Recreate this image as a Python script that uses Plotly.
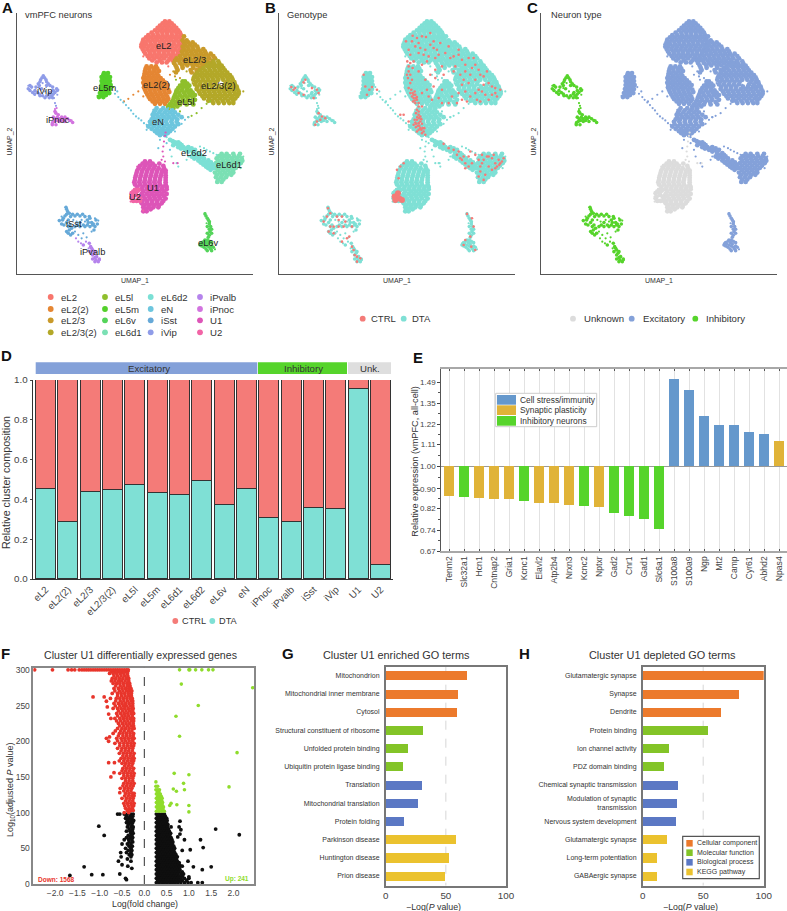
import plotly.graph_objects as go

W, H = 787, 911
FONT = "Liberation Sans"

# ---------- UMAP clusters as (row, [columns]) in picture units
eL2 = [(65, [495, 508]), (71, [488, 501, 515]), (78, [480, 494, 508, 522]), (85, [473, 487, 501, 515, 529]),
       (92, [465, 480, 494, 508, 522, 535]), (99, [455, 472, 487, 501, 515, 529, 540]),
       (106, [445, 460, 474, 488, 502, 516, 530, 543]), (113, [438, 452, 467, 481, 495, 509, 523, 536, 548]),
       (120, [430, 444, 458, 472, 486, 500, 514, 528, 542]), (127, [428, 437, 451, 465, 479, 493, 507, 521, 535, 548]),
       (134, [425, 439, 453, 467, 481, 495, 509, 523, 537, 548]), (141, [424, 432, 446, 460, 474, 488, 502, 516, 530, 544]),
       (148, [428, 442, 456, 470, 484, 498, 512, 526, 540]), (155, [432, 449, 463, 477, 491, 505, 519, 533, 545]),
       (162, [436, 450, 464, 478, 492, 506, 520, 534]), (169, [443, 457, 471, 485, 499, 513, 527]),
       (176, [448, 464, 478, 492, 510, 522]), (182, [457, 480, 505, 518]), (188, [470, 486, 500])]
eL2_2 = [(200, [440, 454, 468]), (207, [437, 447, 461, 472]), (214, [435, 449, 463, 477]), (221, [434, 442, 456, 470]),
         (228, [433, 447, 461, 475]), (235, [430, 440, 454, 468, 482]), (242, [433, 447, 461, 475, 489]),
         (249, [430, 440, 454, 468, 482, 496]), (256, [433, 447, 461, 475, 489, 503]), (263, [432, 442, 456, 470, 484, 498]),
         (270, [435, 449, 463, 477, 491, 505]), (277, [438, 452, 466, 480, 494, 508]), (284, [442, 456, 470, 484, 498]),
         (291, [446, 460, 474, 488, 502]), (298, [450, 464, 478, 492, 505]), (305, [458, 472, 486, 500]), (312, [465, 480, 495])]
eL2_3 = [(110, [552]), (122, [548, 560]), (128, [552, 565, 578]), (135, [555, 570, 585]), (141, [548, 562, 577, 592]),
         (148, [552, 566, 580, 595, 610]), (155, [546, 559, 573, 587, 601, 615]), (162, [548, 562, 576, 590, 604, 618, 632]),
         (169, [540, 555, 569, 583, 597, 611, 625, 640]), (176, [530, 544, 558, 572, 586, 600, 614, 628, 645]),
         (183, [525, 537, 551, 565, 579, 593, 607, 622, 638]), (190, [522, 540, 555, 570, 585, 600, 615, 630]),
         (197, [527, 547, 562, 578, 592, 608]), (204, [530, 548, 580, 600]), (211, [533, 572, 590]),
         (218, [528, 575, 590])]
eL2_3_2 = [(185, [640, 655]), (192, [628, 642, 658]), (198, [620, 635, 650, 665]), (205, [610, 627, 642, 657, 670]),
           (212, [600, 615, 630, 645, 660, 675]), (219, [592, 607, 622, 637, 652, 667, 682]),
           (226, [585, 600, 615, 630, 645, 660, 675, 690]), (233, [582, 592, 607, 622, 637, 652, 667, 682, 695]),
           (240, [580, 595, 610, 625, 640, 655, 670, 685, 698]), (247, [588, 602, 617, 632, 647, 680, 695, 703]),
           (254, [585, 600, 615, 630, 645, 675, 690, 705]), (261, [592, 607, 622, 637, 657, 672, 687, 700, 710]),
           (268, [590, 605, 620, 635, 650, 665, 680, 695, 712]), (275, [597, 612, 627, 642, 657, 672, 687, 702, 716]),
           (282, [600, 615, 630, 645, 660, 675, 690, 705, 716]), (289, [607, 622, 637, 652, 667, 682, 697, 712]),
           (296, [612, 628, 644, 660, 676, 692, 706]), (303, [625, 636, 652, 668, 684, 700]), (310, [640, 656, 672, 688, 700])]
eL5l = [(245, [548, 555]), (252, [548, 562]), (258, [540, 555, 568]), (265, [535, 548, 562]), (272, [530, 545, 560, 572]),
        (279, [528, 537, 552, 566, 578]), (286, [525, 540, 555, 570, 585]), (293, [522, 532, 547, 562, 578]),
        (300, [520, 535, 550, 565, 585]), (307, [515, 528, 543, 558, 575]), (314, [510, 525, 540, 560, 580]),
        (320, [505, 517, 532]), (326, [505, 520])]
eL5m = [(220, [312, 324]), (226, [310, 322]), (232, [305, 318, 330]), (238, [311, 324]), (244, [305, 318, 330]),
        (250, [311, 325]), (256, [305, 318, 332]), (262, [310, 325]), (268, [303, 316, 330]), (274, [309, 323]),
        (280, [300, 314, 328]), (286, [304, 318]), (292, [297, 310])]
eL6v = [(642, [615]), (648, [618]), (655, [622]), (660, [625]), (665, [628]), (672, [628]), (680, [622, 632]), (688, [628, 635]),
        (695, [630]), (700, [622, 635]), (706, [628]), (712, [625]), (720, [615, 622]), (724, [612, 628]), (728, [605, 620, 635]),
        (732, [608, 625]), (735, [600, 615]), (738, [605, 622, 635]), (742, [612, 628, 640]), (747, [618, 632]), (752, [622, 635])]
eL6d1 = [(462, [665, 680, 700, 720]), (469, [657, 672, 687, 702, 716]), (476, [650, 665, 680, 695, 710, 725]),
         (483, [655, 670, 685, 700, 715, 727]), (490, [648, 663, 678, 693, 708, 722]), (497, [654, 669, 684, 699, 714]),
         (504, [648, 663, 678, 693, 708]), (511, [654, 669, 684, 699]), (518, [645, 660, 675, 690, 700]),
         (525, [652, 667, 682, 694]), (532, [648, 663, 678]), (539, [655, 670]), (546, [652, 665])]
eL6d2 = [(420, [510]), (424, [518]), (428, [525, 535]), (432, [530, 540]), (436, [520, 545]), (442, [535, 550, 565]),
         (446, [543, 560, 575]), (450, [555, 570, 585]), (455, [565, 578]), (460, [580, 595]), (465, [585, 600]),
         (470, [575, 590, 605]), (476, [583, 598, 612]), (482, [595, 610, 625]), (488, [602, 618, 633]),
         (494, [610, 625, 640]), (500, [618, 632]), (505, [625, 640]), (510, [632])]
eN = [(325, [470, 490]), (332, [466, 482, 500, 517]), (338, [462, 478, 494, 510, 525]), (345, [458, 470, 486, 502, 518, 535]),
      (352, [460, 476, 492, 508, 524, 545]), (359, [455, 468, 484, 500, 516, 532]), (366, [450, 466, 482, 498, 514, 530]),
      (373, [452, 469, 485, 501, 517, 535]), (380, [445, 461, 477, 493, 509, 525]), (387, [455, 471, 487, 503, 518]),
      (394, [465, 480, 495, 510]), (400, [472, 488, 503]), (406, [480, 495])]
iSst = [(622, [198]), (628, [200]), (635, [203]), (640, [208]), (643, [200, 218, 232, 248]), (648, [195, 225, 240]),
        (650, [212, 255, 268]), (655, [190, 270]), (660, [188, 205, 262, 288]), (662, [178]), (668, [200, 240, 265, 275]),
        (672, [185, 280, 292]), (675, [192, 210, 232, 250, 262, 278]), (680, [205, 225, 240, 255, 270, 285]), (685, [215]),
        (690, [208, 282]), (695, [200]), (700, [205, 218]), (705, [212])]
iVip = [(228, [130]), (234, [126, 134]), (240, [122, 138]), (246, [120, 140]), (252, [115, 145]), (257, [90, 118, 140, 150]),
        (262, [95, 108, 158]), (267, [85, 125, 170]), (272, [90, 105, 160, 172]), (278, [98, 112, 150, 165]),
        (283, [104, 118, 148, 160]), (288, [120, 128, 140, 155]), (294, [135, 148, 158])]
iPvalb = [(730, [268]), (735, [250]), (740, [272]), (745, [275]), (750, [278]), (755, [270, 285]), (760, [282]), (765, [278]),
          (770, [290]), (773, [285]), (777, [278, 298]), (780, [288]), (785, [285, 295])]
iPnoc = [(335, [165]), (340, [168]), (345, [175]), (352, [160, 172, 185, 195]), (357, [165, 178, 190, 203]),
         (362, [170, 185, 210]), (365, [163, 178, 195]), (368, [158, 218]), (375, [157, 168])]
U1 = [(485, [435, 450]), (491, [428, 442, 458, 478]), (498, [420, 435, 450, 465, 490]), (505, [416, 431, 446, 461, 476, 492]),
      (512, [412, 427, 442, 457, 472, 487, 497]), (519, [410, 425, 440, 455, 470, 485, 497]),
      (526, [408, 423, 438, 453, 468, 483, 497]), (533, [406, 421, 436, 451, 466, 481, 497]),
      (540, [405, 420, 435, 450, 465, 480, 497]), (547, [403, 418, 433, 448, 463, 478, 497]),
      (554, [405, 420, 435, 450, 465, 480, 497]), (561, [412, 428, 443, 458, 473, 488, 500]),
      (568, [425, 440, 455, 470, 485, 500]), (575, [430, 447, 462, 477, 492]), (582, [425, 440, 455, 470, 485, 500]),
      (589, [430, 447, 462, 477, 492]), (596, [435, 450, 465, 480, 497]), (603, [428, 442, 457, 472, 490]),
      (610, [425, 440, 455, 470, 485]), (616, [432, 447, 462, 477]), (622, [430, 445, 460, 475]), (628, [435, 452]), (634, [430, 440])]
U2 = [(570, [405, 415]), (575, [400, 410]), (580, [395]), (585, [408]), (590, [398, 416]), (595, [395, 420]), (603, [400, 410, 420])]

# thin strands and strays, drawn with small dots
sparse = {
    "eL2": [(443, 155), (548, 128), (540, 185), (430, 170), (505, 200), (525, 195)],
    "eL2(2)": [(415, 275), (400, 285), (385, 297), (372, 305), (510, 225), (430, 290), (520, 330)],
    "eL2/3": [(520, 215), (540, 235), (525, 230), (548, 180), (590, 235), (610, 165)],
    "eL2/3(2)": [(578, 250), (655, 255), (560, 215), (730, 275), (650, 178)],
    "eL5l": [(590, 340), (605, 325), (620, 312), (575, 348), (630, 305), (565, 352), (540, 335), (528, 240)],
    "eL5m": [(340, 262), (293, 288)],
    "eL6v": [(615, 640), (600, 730), (630, 668), (620, 670), (645, 748)],
    "eL6d1": [(730, 470), (722, 505), (650, 548)],
    "eL6d2": [(600, 440), (612, 445), (620, 450), (630, 455), (640, 460), (650, 465), (500, 412), (560, 480),
              (530, 490), (515, 470), (535, 500), (565, 470)],
    "eN": [(345, 282), (352, 275), (355, 292), (362, 300), (370, 308), (378, 316), (386, 325), (393, 332), (400, 342),
           (408, 350), (416, 356), (424, 362), (432, 370), (440, 375), (555, 360), (565, 352), (545, 372), (525, 395),
           (500, 430), (510, 450), (475, 445), (480, 420), (460, 330), (440, 390), (505, 325)],
    "iSst": [(185, 650), (220, 660), (230, 665), (245, 660), (255, 665), (295, 662), (285, 655), (275, 695),
             (250, 700), (260, 712), (245, 715), (235, 705), (225, 695)],
    "iVip": [(85, 258), (90, 272), (128, 250), (118, 265), (150, 258), (175, 270), (172, 285), (162, 295), (165, 310),
             (168, 318), (105, 285), (135, 275)],
    "iPvalb": [(228, 715), (235, 725), (243, 730), (258, 725), (266, 745), (300, 780)],
    "iPnoc": [(170, 325), (165, 328), (200, 355), (215, 362), (155, 372)],
    "U1": [(490, 470), (488, 455), (490, 440), (492, 425), (495, 408), (497, 398), (485, 480), (495, 485), (412, 500),
           (415, 575), (420, 585), (520, 490), (533, 490)],
    "U2": [(392, 590), (392, 605), (430, 632)],
}

clusters = [("eL2", eL2, "#F8766D"), ("eL2(2)", eL2_2, "#E58633"), ("eL2/3", eL2_3, "#C99A2A"),
            ("eL2/3(2)", eL2_3_2, "#B3A828"), ("eL5l", eL5l, "#8FBF2C"), ("eL5m", eL5m, "#53D02A"),
            ("eL6v", eL6v, "#54D45A"), ("eL6d1", eL6d1, "#7BE0B4"), ("eL6d2", eL6d2, "#7BE0D5"),
            ("eN", eN, "#6DC6DE"), ("iSst", iSst, "#66A9D8"), ("iVip", iVip, "#8F9CE8"),
            ("iPvalb", iPvalb, "#B583EC"), ("iPnoc", iPnoc, "#D273DF"), ("U1", U1, "#DD55B8"), ("U2", U2, "#F264A6")]
cluster_labels = [("eL2", 492, 138), ("eL2/3", 583, 181), ("eL2(2)", 469, 257), ("eL2/3(2)", 655, 260),
                  ("eL5l", 559, 306), ("eL5m", 314, 266), ("eN", 475, 367), ("eL6d2", 582, 459), ("eL6d1", 686, 495),
                  ("U1", 458, 565), ("U2", 405, 591), ("iSst", 222, 673), ("iPvalb", 278, 755), ("eL6v", 627, 730),
                  ("iVip", 133, 273), ("iPnoc", 173, 362)]

# cells from the CTRL genotype, panel B
ctrl_cells = [(452, 108), (465, 115), (480, 110), (492, 112), (450, 125), (470, 130), (505, 100), (515, 125), (490, 150),
              (485, 165), (500, 170), (470, 160), (440, 150), (432, 125), (436, 185), (445, 190), (455, 185), (550, 160),
              (565, 175), (600, 180), (620, 175), (640, 195), (580, 200), (610, 215), (650, 210), (690, 260), (715, 270),
              (665, 255), (650, 270), (625, 290), (680, 300), (700, 280), (620, 250), (600, 255), (640, 240), (665, 230),
              (575, 215), (540, 200), (520, 210), (505, 225), (490, 240), (515, 260), (540, 270), (510, 300), (500, 290),
              (480, 320), (540, 310), (570, 290), (585, 310), (600, 300), (525, 150), (535, 130), (475, 145), (630, 205),
              (660, 275), (690, 285), (645, 300), (610, 275), (595, 225), (520, 175), (560, 140), (530, 165),
              (440, 215), (438, 235), (445, 250), (450, 240), (440, 265), (452, 280), (460, 285), (455, 295), (465, 300),
              (460, 310), (470, 320), (465, 330), (470, 345), (462, 340), (472, 355), (465, 360), (475, 365), (460, 368),
              (468, 378), (480, 372), (475, 385), (485, 395), (478, 390), (490, 405), (462, 382), (455, 285), (465, 292),
              (458, 302), (470, 370), (466, 352), (470, 335), (482, 385), (472, 378), (425, 345), (440, 365), (415, 345),
              (345, 270), (100, 265), (88, 262), (95, 270), (110, 280), (130, 240), (125, 248), (150, 265), (165, 270),
              (170, 280), (155, 295), (125, 285), (170, 340), (180, 350), (190, 355), (165, 365), (175, 360), (160, 375),
              (310, 260), (322, 270), (315, 285), (305, 225), (330, 262), (545, 432), (575, 450), (585, 465), (600, 480),
              (610, 490), (625, 455), (640, 465), (605, 470), (620, 500), (595, 475), (660, 465), (675, 470), (700, 490),
              (715, 490), (705, 500), (690, 510), (655, 500), (660, 490), (650, 530), (680, 470), (725, 475), (670, 525),
              (710, 480), (650, 480), (680, 500), (712, 495), (700, 505), (198, 625), (205, 640), (185, 665), (195, 650),
              (225, 650), (240, 650), (230, 660), (250, 665), (270, 680), (215, 680), (205, 680), (230, 680), (245, 680),
              (200, 695), (215, 700), (240, 725), (255, 715), (270, 740), (285, 770), (295, 775), (285, 785), (275, 750),
              (262, 710), (278, 765), (615, 642), (630, 655), (635, 680), (625, 710), (610, 720), (628, 740), (605, 735),
              (640, 750), (405, 510), (415, 500), (425, 490), (410, 535),
              (445, 280), (450, 290), (458, 275), (448, 270), (462, 295), (470, 310), (453, 305), (475, 350), (478, 358),
              (462, 372), (455, 375), (470, 390), (480, 400), (465, 395), (487, 385), (458, 360), (440, 200), (452, 205),
              (435, 225), (445, 225), (470, 215), (480, 195), (495, 185), (515, 145), (460, 140), (445, 165), (505, 135),
              (590, 165), (610, 195), (625, 225), (655, 225), (680, 250), (700, 265), (705, 290), (670, 285), (640, 280),
              (605, 240), (590, 280), (560, 310), (530, 295), (495, 270), (480, 280), (520, 235), (545, 225), (575, 170),
              (590, 150), (635, 175), (675, 215), (655, 305), (615, 305), (690, 475), (665, 480), (695, 465), (720, 485),
              (655, 515), (665, 540), (620, 470), (590, 455), (560, 445), (630, 490), (610, 505)]
ctrl_blocks = [(398, 590), (408, 580), (412, 596), (400, 600), (420, 600)]

inhibitory_clusters = ["iSst", "iVip", "iPvalb", "iPnoc"]
unknown_clusters = ["U1", "U2"]
small_clusters = ["iSst", "iVip", "iPvalb", "iPnoc", "eL6v"]

# ---------- panel D
comp_names = ["eL2", "eL2(2)", "eL2/3", "eL2/3(2)", "eL5l", "eL5m", "eL6d1", "eL6d2", "eL6v", "eN", "iPnoc", "iPvalb",
              "iSst", "iVip", "U1", "U2"]
comp_dta = [0.452, 0.288, 0.437, 0.449, 0.471, 0.434, 0.42, 0.492, 0.37, 0.452, 0.307, 0.288, 0.355, 0.353, 0.956, 0.072]
comp_ctrl = [0.548, 0.712, 0.563, 0.551, 0.529, 0.566, 0.58, 0.508, 0.63, 0.548, 0.693, 0.712, 0.645, 0.647, 0.044, 0.928]

# ---------- panel E
genes = ["Tenm2", "Slc32a1", "Hcn1", "Cntnap2", "Gria1", "Kcnc1", "Elavl2", "Atp2b4", "Nrxn3", "Kcnc2", "Nptxr", "Gad2",
         "Cnr1", "Gad1", "Slc6a1", "S100a8", "S100a9", "Ngp", "Mt2", "Camp", "Cyr61", "Abhd2", "Npas4"]
# log10 of the relative expression, the axis is evenly spaced in log
gene_log = [-0.0619, -0.0632, -0.0646, -0.0673, -0.068, -0.072, -0.0748, -0.0748, -0.0789, -0.0809, -0.0843, -0.0959,
            -0.1033, -0.1081, -0.1285, 0.1788, 0.1577, 0.1027, 0.0843, 0.0843, 0.0707, 0.0659, 0.051]
gene_group = ["S", "I", "S", "S", "S", "I", "S", "S", "S", "I", "S", "I", "I", "I", "I", "C", "C", "C", "C", "C", "C", "C", "S"]
expr_ticks = ["1.49", "1.35", "1.22", "1.11", "1.00", "0.90", "0.82", "0.74", "0.67"]
expr_tick_log = [0.1732, 0.1303, 0.0864, 0.0453, 0, -0.0458, -0.0862, -0.1308, -0.1739]
expr_minor_log = [0.1517, 0.1083, 0.0658, 0.0226, -0.0229, -0.066, -0.1085, -0.1523]

# ---------- panel F
red_rows = [(298, [-.74, -.66, -.58, -.5, -.42, -.37]), (295, [-.78, -.7, -.62, -.54, -.46, -.38]),
            (291.5, [-.68, -.6, -.52, -.44, -.37]), (288, [-.72, -.64, -.56, -.48, -.4, -.35]),
            (284.5, [-.74, -.66, -.58, -.51, -.43, -.35]), (281, [-.7, -.62, -.55, -.47, -.39, -.33]),
            (277.5, [-.64, -.54, -.46, -.38, -.32]), (274, [-.68, -.58, -.5, -.42, -.35, -.3]),
            (270.5, [-.66, -.56, -.48, -.4, -.33, -.28]), (267, [-.72, -.6, -.52, -.44, -.36, -.29]),
            (263.5, [-.6, -.51, -.43, -.35, -.29]), (260, [-.76, -.63, -.55, -.47, -.39, -.31, -.27]),
            (256.5, [-.64, -.54, -.46, -.38, -.3, -.26]), (253, [-.68, -.58, -.5, -.42, -.34, -.26]),
            (249.5, [-.65, -.55, -.47, -.4, -.32, -.26]), (246, [-.7, -.6, -.52, -.44, -.36, -.28, -.25]),
            (242.5, [-.58, -.49, -.41, -.33, -.26]), (239, [-.62, -.53, -.45, -.37, -.29, -.24]),
            (235.5, [-.6, -.5, -.43, -.35, -.27]), (232, [-.66, -.55, -.47, -.39, -.31, -.24]),
            (228.5, [-.62, -.53, -.45, -.37, -.29, -.24]), (225, [-.58, -.49, -.41, -.33, -.25]),
            (221.5, [-.55, -.46, -.38, -.3, -.24]), (218, [-.6, -.5, -.42, -.34, -.26, -.23]),
            (214.5, [-.65, -.53, -.45, -.36, -.28]), (211, [-.7, -.56, -.48, -.4, -.32, -.24]),
            (207.5, [-.58, -.48, -.4, -.32, -.25]), (204, [-.62, -.52, -.44, -.36, -.28, -.23]),
            (200.5, [-.6, -.5, -.42, -.34, -.26]), (197, [-.66, -.55, -.46, -.38, -.3, -.23]),
            (193.5, [-.55, -.46, -.38, -.3, -.24]), (190, [-.6, -.5, -.42, -.34, -.26]),
            (186.5, [-.52, -.43, -.35, -.27]), (183, [-.56, -.47, -.39, -.31, -.23]),
            (179.5, [-.48, -.4, -.32, -.25]), (176, [-.52, -.44, -.36, -.28, -.23]),
            (172.5, [-.56, -.46, -.38, -.3, -.24]), (169, [-.5, -.42, -.34, -.26]), (165.5, [-.44, -.36, -.28]),
            (162, [-.48, -.4, -.32, -.24]), (158.5, [-.5, -.42, -.34, -.26]), (155, [-.55, -.46, -.38, -.3, -.23]),
            (151.5, [-.46, -.38, -.3, -.24]), (148, [-.5, -.42, -.34, -.26]), (144.5, [-.42, -.34, -.26]),
            (141, [-.46, -.38, -.3, -.23]), (137.5, [-.48, -.4, -.32, -.25]), (134, [-.54, -.44, -.36, -.28]),
            (130.5, [-.46, -.38, -.3]), (127, [-.42, -.34, -.26, -.23]), (123.5, [-.44, -.36, -.28, -.23]),
            (120, [-.5, -.4, -.32, -.25]), (116.5, [-.42, -.34, -.26]), (113, [-.46, -.38, -.3, -.23]),
            (109.5, [-.44, -.36, -.28, -.24]), (106, [-.42, -.34, -.27]), (103, [-.38, -.3, -.25]),
            (300, [-2.46, -2.06, -1.71, -1.63, -1.56, -1.46, -1.4, -1.35, -1.3, -1.25, -1.2, -1.15, -1.1, -1.05, -1.0,
                   -.95, -.9, -.85, -.8, -.75, -.7, -.65, -.6, -.55, -.5, -.45, -.4, -.36])]
red_stray = [(-1.15, 262), (-.9, 262), (-.85, 256), (-.83, 248), (-.8, 238), (-.75, 232), (-.85, 204), (-.78, 206),
             (-.8, 200), (-.8, 170), (-.67, 170), (-.75, 150), (-.68, 156), (-.55, 128), (-.45, 100), (-.35, 100)]
black_rows = [(98, [-.6, -.55, -.45, -.38, -.3, -.25]), (95, [-.4, -.32, -.26]), (92, [-.42, -.35, -.28]), (89, [-.38, -.3, -.24]),
              (86, [-.4, -.33, -.26]), (83, [-.36, -.28]), (80, [-.38, -.3, -.25]), (77, [-.34, -.26]), (74, [-.4, -.32, -.27]),
              (71, [-.3, -.25]), (68, [-.36, -.28]), (65, [-.4, -.32, -.26]), (62, [-.45, -.35, -.28]), (59, [-.34, -.26]),
              (56, [-.5, -.38, -.3]), (53, [-.34, -.27]), (50, [-.42, -.3]), (47, [-.36, -.28]), (44, [-.53, -.4, -.3]),
              (41, [-.34, -.28]), (38, [-.52, -.3]), (32, [-.58, -.3]),
              (98, [.27, .33, .39, .45]), (95, [.3, .36, .42, .47]), (92, [.27, .33, .39, .45, .5]), (89, [.3, .36, .42, .47, .51]),
              (86, [.27, .33, .39, .45, .5]), (83, [.3, .36, .42, .48, .53]), (80, [.27, .33, .39, .45, .52]),
              (77, [.3, .36, .42, .48, .54]), (74, [.27, .33, .39, .45, .51, .56]), (71, [.3, .36, .42, .48, .54, .59]),
              (68, [.27, .33, .39, .45, .51, .57]), (65, [.3, .36, .42, .48, .54, .6]), (62, [.27, .33, .39, .45, .51, .57, .62]),
              (59, [.3, .36, .42, .48, .54, .6, .64]), (56, [.27, .33, .39, .45, .51, .57, .63]),
              (53, [.3, .36, .42, .48, .54, .6, .66]), (50, [.27, .33, .39, .45, .51, .57, .63, .68]),
              (47, [.3, .36, .42, .48, .54, .6, .66]), (44, [.27, .33, .39, .45, .51, .57, .63, .68]),
              (41, [.3, .36, .42, .48, .54, .6, .66, .71]), (38, [.27, .33, .39, .45, .51, .57, .63, .69, .74]),
              (35, [.3, .36, .42, .48, .54, .6, .66, .72]), (32, [.27, .33, .39, .45, .51, .57, .63, .69, .74]),
              (29, [.3, .36, .42, .48, .54, .6, .66, .72, .77]), (26, [.27, .33, .39, .45, .51, .57, .63, .69, .75, .8]),
              (23, [.3, .36, .42, .48, .54, .6, .66, .72, .78]), (20, [.27, .33, .39, .45, .51, .57, .63, .69, .75, .8]),
              (17, [.3, .36, .42, .48, .54, .6, .66, .72, .78, .85]), (14, [.27, .33, .39, .45, .51, .57, .63, .69, .75, .82, .88]),
              (11, [.3, .36, .42, .48, .54, .6, .66, .72, .78, .85]), (8, [.27, .33, .39, .45, .51, .57, .63, .69, .75, .82, .9, 1.0]),
              (5, [.3, .36, .42, .48, .54, .6, .66, .72, .78, .85, .95]),
              (2, [.27, .33, .39, .45, .51, .57, .63, .69, .75, .82, .9, .98, 1.05, 1.2, 1.3])]
black_stray = [(-1.02, 81), (-.9, 68), (-1.35, 24), (-1.18, 13), (-.93, 13), (-.55, 14), (-1.67, 12), (-.4, 6), (-.42, 8),
               (-.5, 27), (-.37, 25), (-.38, 35), (-.28, 22), (.8, 88), (.78, 80), (.6, 80), (.82, 76), (.8, 70), (.75, 66),
               (.9, 62), (1.6, 77), (2.13, 69), (1.26, 62), (1.32, 51), (.85, 47), (1.03, 48), (.98, 32), (1.1, 24),
               (1.5, 24), (1.3, 20), (1.0, 10), (.85, 25), (.78, 30)]
green_rows = [(102, [.27, .33, .39, .45]), (105, [.3, .36, .42]), (108, [.27, .33, .39, .43]), (111, [.3, .36, .4]),
              (114, [.27, .32, .37, .41]), (117, [.3, .35, .39]), (120, [.27, .32, .37, .4]), (123, [.3, .34, .38]),
              (126, [.27, .31, .36]), (129, [.29, .33]), (132, [.26, .3, .34]), (137, [.26, .3]), (143, [.26])]
green_stray = [(.79, 300), (1.0, 300), (1.02, 300), (1.15, 300), (1.29, 300), (1.44, 300), (1.54, 300), (.83, 280),
               (2.43, 275), (1.21, 250), (.71, 235), (.79, 207), (2.08, 184), (.67, 155), (1.0, 153), (.88, 141), (1.9, 136),
               (.65, 133), (.72, 130), (.9, 132), (.6, 113), (.57, 110), (.73, 111), (1.0, 110), (1.0, 101)]

# ---------- panels G, H
go_enriched_terms = ["Mitochondrion", "Mitochondrial inner membrane", "Cytosol", "Structural constituent of ribosome",
                     "Unfolded protein binding", "Ubiquitin protein ligase binding", "Translation",
                     "Mitochondrial translation", "Protein folding", "Parkinson disease", "Huntington disease", "Prion disease"]
go_enriched_vals = [67.6, 60.1, 59, 30.7, 18, 14.1, 30.2, 26.3, 14.7, 57.9, 52, 48.8]
go_depleted_terms = ["Glutamatergic synapse", "Synapse", "Dendrite", "Protein binding", "Ion channel activity",
                     "PDZ domain binding", "Chemical synaptic transmission", "Modulation of synaptic<br>transmission",
                     "Nervous system development", "Glutamatergic synapse", "Long-term potentiation", "GABAergic synapse"]
go_depleted_vals = [100, 79, 64.5, 53.4, 21.2, 17.4, 29.2, 28.1, 27.5, 19.6, 11.6, 11.6]
go_colors = ["#EC7A2C"] * 3 + ["#83C427"] * 3 + ["#5B78C4"] * 3 + ["#EBC22E"] * 3

CTRL_RED = "#F47B78"
DTA_TEAL = "#7FE0D5"
GREEN = "#56D42B"
BLUE_EX = "#84A1D9"
TXT = "#333333"


def unpack(rows):
    xs, ys = [], []
    for y, row in rows:
        for x in row:
            xs.append(x)
            ys.append(y)
    return xs, ys


def px_x(x):
    return x / W


def px_y(y):
    return 1 - y / H


def text(x, y, s, size=9, anchor="left", color=TXT, angle=0, bold=False):
    if bold:
        s = "<b>" + s + "</b>"
    fig.add_annotation(x=px_x(x), y=px_y(y), xref="paper", yref="paper", text=s, showarrow=False,
                       xanchor=anchor, yanchor="middle", textangle=angle, align="center", borderpad=0,
                       font=dict(family=FONT, size=size, color=color))


def dot(x, y, color, r=2.9):
    fig.add_shape(type="circle", xref="paper", yref="paper", x0=px_x(x - r), x1=px_x(x + r), y0=px_y(y + r), y1=px_y(y - r),
                  fillcolor=color, line_width=0)


def box(l, t, r, b, color, line=None, lw=1):
    fig.add_shape(type="rect", xref="paper", yref="paper", x0=px_x(l), x1=px_x(r), y0=px_y(b), y1=px_y(t),
                  fillcolor=color, line=dict(color=line, width=lw if line else 0))


def umap_axes(n, left):
    fig.update_layout(**{
        f"xaxis{n}": dict(domain=[px_x(left), px_x(left + 236)], range=[52, 760], showgrid=False, zeroline=False,
                          showticklabels=False, ticks="", showline=True, linecolor="#555555", linewidth=1, anchor=f"y{n}"),
        f"yaxis{n}": dict(domain=[px_y(274), px_y(13)], range=[822, 40], showgrid=False, zeroline=False,
                          showticklabels=False, ticks="", showline=True, linecolor="#555555", linewidth=1, anchor=f"x{n}"),
    })


def scatter(xs, ys, color, size, n):
    fig.add_trace(go.Scatter(x=xs, y=ys, mode="markers", showlegend=False, hoverinfo="skip",
                             marker=dict(color=color, size=size, line_width=0), xaxis=f"x{n}", yaxis=f"y{n}"))


fig = go.Figure()

# ---------- A, B, C
umap_axes("", 17.3)
umap_axes(2, 279.3)
umap_axes(3, 541.3)

for name, rows, color in clusters:
    xs, ys = unpack(rows)
    sx = [p[0] for p in sparse[name]]
    sy = [p[1] for p in sparse[name]]
    if name in inhibitory_clusters:
        type_color = GREEN
    elif name in unknown_clusters:
        type_color = "#DCDCDC"
    else:
        type_color = BLUE_EX
    core_size = 3.6 if name in small_clusters else 4.8
    for n, c in (("", color), (2, DTA_TEAL), (3, type_color)):
        scatter(xs, ys, c, core_size, n)
        scatter(sx, sy, c, 2.2, n)

scatter([p[0] for p in ctrl_cells], [p[1] for p in ctrl_cells], CTRL_RED, 2.6, 2)
scatter([p[0] for p in ctrl_blocks], [p[1] for p in ctrl_blocks], CTRL_RED, 6, 2)

for name, x, y in cluster_labels:
    fig.add_annotation(x=x, y=y, xref="x", yref="y", text=name, showarrow=False,
                       font=dict(family=FONT, size=9.3, color="#222222"))

for left, title in ((24, "vmPFC neurons"), (285.5, "Genotype"), (550, "Neuron type")):
    text(left, 15, title, size=9.3)
for left in (0, 262, 524):
    text(left + 135, 281, "UMAP_1", size=7, anchor="center")
    text(left + 9.5, 142, "UMAP_2", size=7, anchor="center", angle=-90)

legend_names = [c[0] for c in clusters]
legend_colors = [c[2] for c in clusters]
leg_x = [50.7, 105, 150.7, 200]
leg_y = [297, 309, 320.3, 332.3]
leg_order = ["eL2", "eL2(2)", "eL2/3", "eL2/3(2)", "eL5l", "eL5m", "eL6v", "eL6d1", "eL6d2", "eN", "iSst", "iVip",
             "iPvalb", "iPnoc", "U1", "U2"]
for i, name in enumerate(leg_order):
    col, row = i // 4, i % 4
    dot(leg_x[col], leg_y[row], legend_colors[legend_names.index(name)])
    text(leg_x[col] + 9.3, leg_y[row], name, size=9.6)

dot(362.7, 318.7, CTRL_RED)
text(369.7, 318.7, "CTRL", size=9.5)
dot(403.7, 318.7, DTA_TEAL)
text(411, 318.7, "DTA", size=9.5)
dot(573, 318.7, "#DCDCDC")
text(583, 318.7, "Unknown", size=9.6)
dot(631.7, 318.7, BLUE_EX)
text(641.7, 318.7, "Excitatory", size=9.6)
dot(695.3, 318.7, GREEN)
text(705.3, 318.7, "Inhibitory", size=9.6)

# ---------- D
fig.add_trace(go.Bar(x=list(range(16)), y=comp_dta, width=0.9, showlegend=False, marker=dict(color=DTA_TEAL, line=dict(color="#333333", width=1)),
                     xaxis="x4", yaxis="y4"))
fig.add_trace(go.Bar(x=list(range(16)), y=comp_ctrl, width=0.9, showlegend=False, marker=dict(color=CTRL_RED, line=dict(color="#333333", width=1)),
                     xaxis="x4", yaxis="y4"))
fig.update_layout(
    barmode="stack",
    xaxis4=dict(domain=[px_x(32.7), px_x(393)], range=[-0.58, 15.55], tickvals=list(range(16)), ticktext=comp_names, tickangle=-45,
                showgrid=False, zeroline=False, showline=True, linecolor="#333333", ticks="", anchor="y4",
                tickfont=dict(family=FONT, size=9.8, color="#444444")),
    yaxis4=dict(domain=[px_y(579), px_y(380)], range=[0, 1], tickvals=[0, 0.2, 0.4, 0.6, 0.8, 1.0], ticktext=["0.0", "0.2", "0.4", "0.6", "0.8", "1.0"],
                showgrid=False, zeroline=False, showline=True, linecolor="#333333", ticks="outside", ticklen=2, anchor="x4",
                tickfont=dict(family=FONT, size=9.8, color="#444444")),
)
text(6, 483, "Relative cluster composition", size=10.7, anchor="center", angle=-90)
box(35.7, 362.3, 257.3, 374, BLUE_EX)
box(258, 362.3, 347, 374, GREEN)
box(348, 362.3, 391, 374, "#DEDEDE")
text(149, 368.5, "Excitatory", size=9.6, anchor="center")
text(303, 368.5, "Inhibitory", size=9.6, anchor="center")
text(369.5, 368.5, "Unk.", size=9.6, anchor="center")
dot(175.3, 621, CTRL_RED)
text(180.7, 621, "CTRL", size=9.2)
dot(212.3, 621, DTA_TEAL)
text(217.7, 621, "DTA", size=9.2)

# ---------- E
group_colors = {"C": "#6598CC", "S": "#E0B338", "I": GREEN}
fig.add_trace(go.Bar(x=genes, y=gene_log, width=0.62, showlegend=False, marker=dict(color=[group_colors[g] for g in gene_group], line_width=0),
                     xaxis="x5", yaxis="y5"))
fig.update_layout(
    xaxis5=dict(domain=[px_x(441.3), px_x(786.7)], range=[-0.533, 22.49], type="category", tickangle=-90, showgrid=True, gridcolor="#E2E2E2",
                zeroline=False, showline=True, linecolor="#A8A8A8", linewidth=1.8, mirror="allticks", ticks="inside", ticklen=2, tickcolor="#555555",
                anchor="y5", tickfont=dict(family=FONT, size=8.6, color="#444444")),
    yaxis5=dict(domain=[px_y(551), px_y(369.3)], range=[-0.1739, 0.2001], tickvals=expr_tick_log, ticktext=expr_ticks, showgrid=False,
                zeroline=True, zerolinecolor="#999999", zerolinewidth=1, showline=True, linecolor="#555555", ticks="outside", ticklen=3,
                minor=dict(tickvals=expr_minor_log, ticks="outside", ticklen=2, tickcolor="#555555"),
                anchor="x5", tickfont=dict(family=FONT, size=8, color="#444444")),
)
text(415, 461.7, "Relative expression (vmPFC, all-cell)", size=9.2, anchor="center", angle=-90)
box(495.7, 393.3, 596.7, 426.7, "white", "#CCCCCC", 1)
for top, label, c in ((395, "Cell stress/immunity", "#6598CC"), (405.3, "Synaptic plasticity", "#E0B338"), (416, "Inhibitory neurons", GREEN)):
    box(497, top, 516, top + 9.7, c)
    text(518.5, top + 5, label, size=8.4)

# ---------- F
rx, ry = unpack(red_rows)
bx, by = unpack(black_rows)
gx, gy = unpack(green_rows)
fig.add_trace(go.Scatter(x=bx + [p[0] for p in black_stray], y=by + [p[1] for p in black_stray], mode="markers", showlegend=False,
                         marker=dict(color="#0F0F0F", size=3.8, line_width=0), xaxis="x6", yaxis="y6"))
fig.add_trace(go.Scatter(x=rx + [p[0] for p in red_stray], y=ry + [p[1] for p in red_stray], mode="markers", showlegend=False,
                         marker=dict(color="#E8352B", size=3.8, line_width=0), xaxis="x6", yaxis="y6"))
fig.add_trace(go.Scatter(x=gx + [p[0] for p in green_stray], y=gy + [p[1] for p in green_stray], mode="markers", showlegend=False,
                         marker=dict(color="#8FDC2C", size=3.6, line_width=0), xaxis="x6", yaxis="y6"))
fig.update_layout(
    xaxis6=dict(domain=[px_x(33.3), px_x(254)], range=[-2.49, 2.46], tickvals=[-2, -1.5, -1, -0.5, 0, 0.5, 1, 1.5, 2],
                ticktext=["\u22122.0", "\u22121.5", "\u22121.0", "\u22120.5", "0.0", "0.5", "1.0", "1.5", "2.0"],
                showgrid=False, zeroline=False,
                showline=True, linecolor="#888888", linewidth=1.5, mirror=True, ticks="", anchor="y6",
                tickfont=dict(family=FONT, size=8.5, color="#444444")),
    yaxis6=dict(domain=[px_y(884), px_y(667.7)], range=[0, 303], tickvals=[0, 50, 100, 150, 200, 250, 300], showgrid=False, zeroline=False,
                showline=True, linecolor="#888888", linewidth=1.5, mirror=True, ticks="", anchor="x6",
                tickfont=dict(family=FONT, size=8.5, color="#444444")),
)
fig.add_shape(type="line", xref="x6", yref="y6", x0=0, x1=0, y0=0, y1=303, line=dict(color="#333333", width=1, dash="dash"))
text(140.7, 654.7, "Cluster U1 differentially expressed genes", size=10.6, anchor="center")
text(10, 790, "Log<sub>10</sub>(adjusted <i>P</i> value)", size=9, anchor="center", angle=-90)
text(145, 904, "Log(fold change)", size=8.8, anchor="center")
text(37, 879, "Down: 1568", size=6.5, color="#E8352B", bold=True)
text(250, 879, "Up: 241", size=6.5, color="#8FDC2C", anchor="right", bold=True)

# ---------- G, H
for n, terms, vals, left, right, cx, title in ((7, go_enriched_terms, go_enriched_vals, 385.7, 506, 396.7, "Cluster U1 enriched GO terms"),
                                               (8, go_depleted_terms, go_depleted_vals, 642.7, 763.7, 662.7, "Cluster U1 depleted GO terms")):
    fig.add_trace(go.Bar(x=vals, y=list(range(12)), orientation="h", width=0.5, showlegend=False, marker=dict(color=go_colors, line_width=0),
                         xaxis=f"x{n}", yaxis=f"y{n}"))
    fig.update_layout(**{
        f"xaxis{n}": dict(domain=[px_x(left), px_x(right)], range=[0, 100], tickvals=[0, 50, 100], showgrid=False, zeroline=False,
                          showline=True, linecolor="#777777", linewidth=1.5, mirror=True, ticks="", anchor=f"y{n}",
                          tickfont=dict(family=FONT, size=9.8, color="#444444")),
        f"yaxis{n}": dict(domain=[px_y(885.7), px_y(666.7)], range=[11.54, -0.49], tickvals=list(range(12)), ticktext=terms, showgrid=False,
                          zeroline=False, showline=True, linecolor="#777777", linewidth=1.5, mirror=True, ticks="", anchor=f"x{n}",
                          ticklabelstandoff=3, tickfont=dict(family=FONT, size=7, color="#333333")),
    })
    fig.add_shape(type="line", xref=f"x{n}", yref=f"y{n}", x0=50, x1=50, y0=-0.49, y1=11.54, line=dict(color="#CCCCCC", width=0.8, dash="dash"), layer="below")
    text(cx, 654.7, title, size=10.9, anchor="center")
    text(left + 47.5, 906.7, "\u2212Log(<i>P</i> value)", size=8.8, anchor="center")

box(682.7, 836.3, 759.3, 878.7, "white", "#555555", 1.2)
for y, label, c in ((843.3, "Cellular component", "#EC7A2C"), (852.7, "Molecular function", "#83C427"),
                    (862.3, "Biological process", "#5B78C4"), (872, "KEGG pathway", "#EBC22E")):
    box(686.3, y - 3.3, 692.7, y + 3.3, c)
    text(696.3, y, label, size=7)

# panel letters
for letter, x, y in (("A", 1, 7), ("B", 264, 7), ("C", 526, 7), ("D", 0, 356), ("E", 412, 357), ("F", 0, 653), ("G", 281, 653), ("H", 518, 653)):
    text(x, y, letter, size=15, color="#111111", bold=True)

fig.update_layout(width=W, height=H, autosize=False, margin=dict(l=0, r=0, t=0, b=0, autoexpand=False), paper_bgcolor="white",
                  plot_bgcolor="white", font=dict(family=FONT), bargap=0)

fig.write_html("out.html", config=dict(displayModeBar=False), post_script="document.body.style.margin='0';")
